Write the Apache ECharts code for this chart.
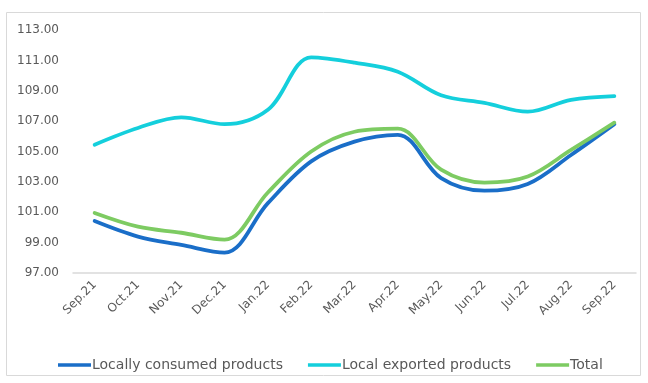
<!DOCTYPE html>
<html><head><meta charset="utf-8">
<script src="https://cdn.jsdelivr.net/npm/echarts@6/dist/echarts.min.js"></script>
<style>html,body{margin:0;padding:0;background:#fff}#c{width:648px;height:383px}</style>
</head><body><div id="c"></div>
<script>
const categories = ['Sep.21','Oct.21','Nov.21','Dec.21','Jan.22','Feb.22','Mar.22','Apr.22','May.22','Jun.22','Jul.22','Aug.22','Sep.22'];
const locallyConsumed = [100.42, 99.4, 98.85, 98.34, 101.6, 104.35, 105.65, 106.1, 103.25, 102.42, 102.86, 104.77, 106.8];
const localExported = [105.45, 106.55, 107.25, 106.8, 107.75, 111.2, 110.85, 110.25, 108.7, 108.2, 107.62, 108.4, 108.65];
const total = [100.95, 100.05, 99.65, 99.2, 102.3, 105.0, 106.3, 106.5, 103.8, 102.95, 103.35, 105.1, 106.9];
const yTicks = {min: 97, max: 113, interval: 2};

const chart = echarts.init(document.getElementById('c'));
const font = 'DejaVu Sans';
function line(name, data, color) {
  return {name, type: 'line', data, smooth: 0.35, symbol: 'none',
    lineStyle: {width: 3.8, color, cap: 'round'}, itemStyle: {color}};
}
chart.setOption({
  animation: false,
  graphic: [{type: 'rect', shape: {x: 6.5, y: 12.5, width: 634, height: 363},
    style: {fill: 'none', stroke: '#d9d9d9', lineWidth: 1}}],
  grid: {left: 73, right: 12, top: 30, bottom: 110},
  xAxis: {type: 'category', data: categories, boundaryGap: true,
    axisLine: {show: true, lineStyle: {color: '#d9d9d9', width: 1.5}},
    axisTick: {show: false},
    axisLabel: {rotate: 45, color: '#595959', fontFamily: font, fontSize: 12, margin: 10, interval: 0}},
  yAxis: {type: 'value', min: yTicks.min, max: yTicks.max, interval: yTicks.interval,
    splitLine: {show: false}, axisLine: {show: false}, axisTick: {show: false},
    axisLabel: {color: '#595959', fontFamily: font, fontSize: 12, margin: 14,
      formatter: v => v.toFixed(2)}},
  legend: {top: 353, left: 53, icon: 'rect', itemWidth: 33, itemHeight: 3.5, itemGap: 25,
    textStyle: {color: '#595959', fontFamily: font, fontSize: 14, padding: [0, 0, 0, -4]},
    data: ['Locally consumed products', 'Local exported products', 'Total']},
  series: [
    line('Locally consumed products', locallyConsumed, '#1a6ec8'),
    line('Local exported products', localExported, '#14cfdc'),
    line('Total', total, '#7dcb62')
  ]
});
</script></body></html>
